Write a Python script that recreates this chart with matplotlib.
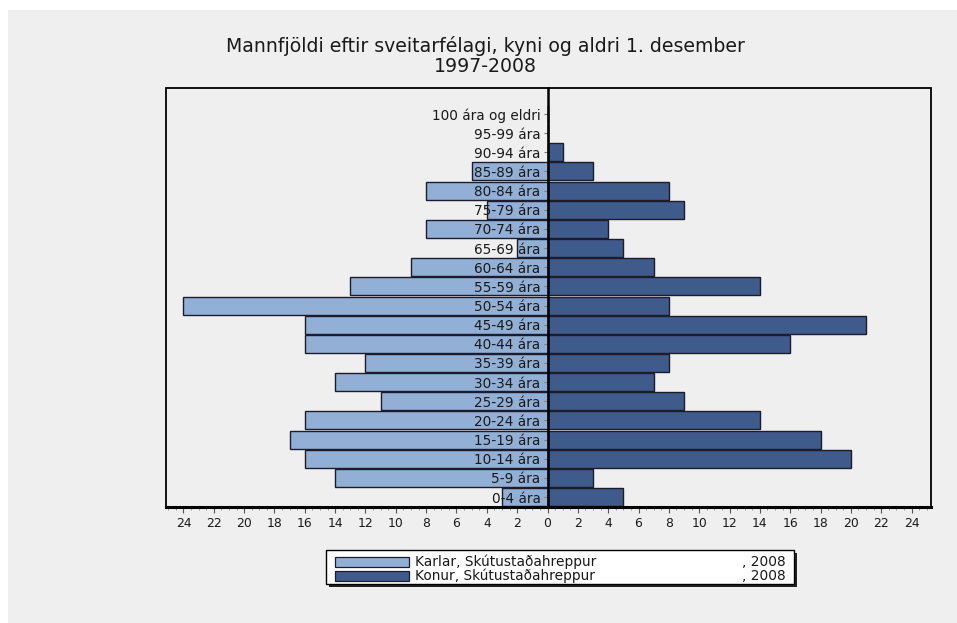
import matplotlib
matplotlib.use("Agg")
import matplotlib.pyplot as plt
from matplotlib.patches import Rectangle
from matplotlib.ticker import MultipleLocator, FuncFormatter

plt.rcParams['font.family'] = ['DejaVu Sans']

age_groups = ["0-4 ára", "5-9 ára", "10-14 ára", "15-19 ára", "20-24 ára", "25-29 ára",
              "30-34 ára", "35-39 ára", "40-44 ára", "45-49 ára", "50-54 ára", "55-59 ára",
              "60-64 ára", "65-69 ára", "70-74 ára", "75-79 ára", "80-84 ára", "85-89 ára",
              "90-94 ára", "95-99 ára", "100 ára og eldri"]
karlar = [3, 14, 16, 17, 16, 11, 14, 12, 16, 16, 24, 13, 9, 2, 8, 4, 8, 5, 0, 0, 0]
konur = [5, 3, 20, 18, 14, 9, 7, 8, 16, 21, 8, 14, 7, 5, 4, 9, 8, 3, 1, 0, 0]
x_ticks = list(range(-24, 25, 2))
title_text = "Mannfjöldi eftir sveitarfélagi, kyni og aldri 1. desember\n1997-2008"
legend_labels = ["Karlar, Skútustaðahreppur", "Konur, Skútustaðahreppur"]
legend_year = ", 2008"

W, H = 957, 623
fig = plt.figure(figsize=(W / 100, H / 100), dpi=100, facecolor="white")
bg = "#efefef"
light = "#92b0d6"
dark = "#3f5b8c"
edge = "#1c1c2c"

# gray panel
fig.patches.append(Rectangle((8 / W, 0), 1 - 8 / W, 1 - 10 / H, transform=fig.transFigure,
                             facecolor=bg, edgecolor="none", zorder=-10))

ax_l, ax_r, ax_t, ax_b = 166, 931, 88, 507
ax = fig.add_axes([ax_l / W, 1 - ax_b / H, (ax_r - ax_l) / W, (ax_b - ax_t) / H])
ax.set_facecolor(bg)

y = list(range(len(age_groups)))
ax.barh(y, [-v for v in karlar], height=0.94, color=light, edgecolor=edge, linewidth=1.0, zorder=1)
ax.barh(y, konur, height=0.94, color=dark, edgecolor=edge, linewidth=1.0, zorder=1)

ax.set_xlim(-25.15, 25.28)
ax.set_ylim(-0.52, 21.36)

for s in ["top", "right", "bottom"]:
    ax.spines[s].set_visible(False)
ax.spines["left"].set_position(("data", 0))
ax.spines["left"].set_linewidth(1.8)
ax.spines["left"].set_zorder(3)

# frame
ax.add_patch(Rectangle((0, 0), 1, 1, transform=ax.transAxes, fill=False,
                       edgecolor="black", linewidth=1.3, clip_on=False, zorder=4))
ax.plot([0, 1], [0, 0], transform=ax.transAxes, color="black", lw=2.2, clip_on=False, zorder=5)

ax.set_yticks(y)
ax.set_yticklabels(age_groups, fontsize=9.8, color="#1a1a1a")
ax.tick_params(axis="y", direction="out", length=3, width=0.8, color="#777777", pad=2)

ax.set_xticks(x_ticks)
ax.xaxis.set_major_formatter(FuncFormatter(lambda v, p: f"{abs(int(round(v)))}"))
ax.xaxis.set_minor_locator(MultipleLocator(0.5))
ax.tick_params(axis="x", which="major", direction="out", length=4, width=0.8, color="#555555",
               labelsize=8.9, pad=3, labelcolor="#1a1a1a")
ax.tick_params(axis="x", which="minor", direction="out", length=2.5, width=0.6, color="#888888")

fig.text(485 / W, 1 - 56 / H, title_text, ha="center", va="center", fontsize=13.6,
         linespacing=1.08, color="#1a1a1a")

# legend
lx0, lx1, ly0, ly1 = 326, 794, 550, 584
fig.patches.append(Rectangle(((lx0 + 3) / W, 1 - (ly1 + 3) / H), (lx1 - lx0) / W, (ly1 - ly0) / H,
                             transform=fig.transFigure, facecolor="#222222", edgecolor="none", zorder=5))
fig.patches.append(Rectangle((lx0 / W, 1 - ly1 / H), (lx1 - lx0) / W, (ly1 - ly0) / H,
                             transform=fig.transFigure, facecolor="white", edgecolor="black",
                             linewidth=1.0, zorder=6))
for i, (lab, col) in enumerate(zip(legend_labels, [light, dark])):
    cy = 561.5 + i * 14.5
    fig.patches.append(Rectangle((335 / W, 1 - (cy + 5) / H), 74 / W, 10 / H,
                                 transform=fig.transFigure, facecolor=col, edgecolor=edge,
                                 linewidth=0.9, zorder=7))
    fig.text(415 / W, 1 - cy / H, lab, ha="left", va="center", fontsize=9.9, color="#1a1a1a", zorder=8)
    fig.text(786 / W, 1 - cy / H, legend_year, ha="right", va="center", fontsize=9.9, color="#1a1a1a", zorder=8)

fig.savefig("out.png", dpi=100, facecolor="white")
